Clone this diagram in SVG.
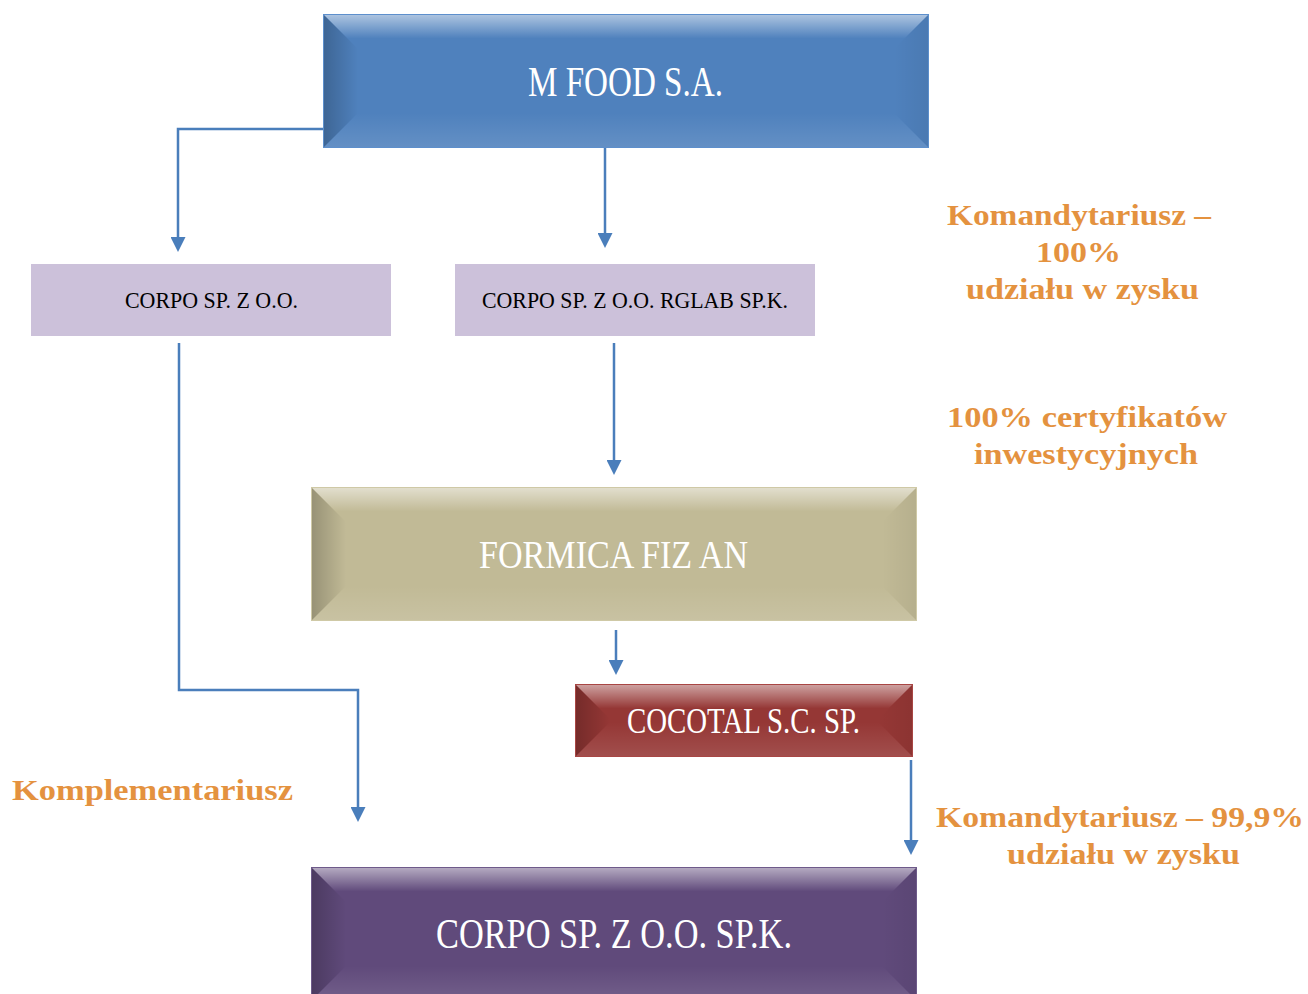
<svg xmlns="http://www.w3.org/2000/svg" width="1308" height="994" viewBox="0 0 1308 994">
<style>
.bg{fill:#ffffff}
.ntext{font-family:"Liberation Serif",serif;fill:#ffffff}
.stext{font-family:"Liberation Serif",serif;fill:#000000;font-size:23px}
.lbl{font-family:"Liberation Serif",serif;font-weight:bold;fill:#e4923f;font-size:29px}
.conn{fill:none;stroke:#4a7ebb;stroke-width:2.5}
.top{fill:url(#gTop)}
.left{fill:url(#gLeft)}
.right{fill:url(#gRight)}
.bot{fill:url(#gBot)}
</style>
<defs>
<linearGradient id="gTop" x1="0" y1="0" x2="0" y2="1">
<stop offset="0" stop-color="#ffffff" stop-opacity="0.55"/>
<stop offset="0.7" stop-color="#ffffff" stop-opacity="0"/>
</linearGradient>
<linearGradient id="gLeft" x1="0" y1="0" x2="1" y2="0">
<stop offset="0" stop-color="#000000" stop-opacity="0.22"/>
<stop offset="1" stop-color="#000000" stop-opacity="0"/>
</linearGradient>
<linearGradient id="gRight" x1="1" y1="0" x2="0" y2="0">
<stop offset="0" stop-color="#000000" stop-opacity="0.06"/>
<stop offset="1" stop-color="#000000" stop-opacity="0"/>
</linearGradient>
<linearGradient id="gBot" x1="0" y1="1" x2="0" y2="0">
<stop offset="0" stop-color="#ffffff" stop-opacity="0.12"/>
<stop offset="1" stop-color="#ffffff" stop-opacity="0"/>
</linearGradient>
<marker id="arr" viewBox="0 0 10 10" refX="2" refY="5" markerWidth="15" markerHeight="15" markerUnits="userSpaceOnUse" orient="auto">
<path d="M0,0 L10,5 L0,10 z" fill="#4a7ebb"/>
</marker>
</defs>
<rect class="bg" x="0" y="0" width="1308" height="994"/>

<g id="connectors">
<path class="conn" d="M323,129 H178 V240" marker-end="url(#arr)"/>
<path class="conn" d="M605,148 V236" marker-end="url(#arr)"/>
<path class="conn" d="M179,343 V690 H358 V810" marker-end="url(#arr)"/>
<path class="conn" d="M614,343 V463" marker-end="url(#arr)"/>
<path class="conn" d="M616,630 V663" marker-end="url(#arr)"/>
<path class="conn" d="M911,760 V843" marker-end="url(#arr)"/>
</g>

<g id="mfood">
<rect x="323" y="14" width="606" height="134" fill="#4f81bd"/>
<polygon class="top" points="323,14 929,14 894,49 358,49"/>
<polygon class="left" points="323,14 358,49 358,113 323,148"/>
<polygon class="right" points="929,14 894,49 894,113 929,148"/>
<polygon class="bot" points="323,148 929,148 894,113 358,113"/>
<rect x="323.5" y="14.5" width="605" height="133" fill="none" stroke="#5d8fcc" stroke-width="1"/>
<text class="ntext" x="528" y="96" font-size="42" textLength="195" lengthAdjust="spacingAndGlyphs">M FOOD S.A.</text>
</g>

<g id="corpo">
<rect x="31" y="264" width="360" height="72" fill="#ccc1da"/>
<text class="stext" x="125" y="308" textLength="173" lengthAdjust="spacingAndGlyphs">CORPO SP. Z O.O.</text>
</g>

<g id="rglab">
<rect x="455" y="264" width="360" height="72" fill="#ccc1da"/>
<text class="stext" x="482" y="308" textLength="306" lengthAdjust="spacingAndGlyphs">CORPO SP. Z O.O. RGLAB SP.K.</text>
</g>

<g id="formica">
<rect x="311" y="487" width="606" height="134" fill="#c1ba96"/>
<polygon class="top" points="311,487 917,487 882,522 346,522"/>
<polygon class="left" points="311,487 346,522 346,586 311,621"/>
<polygon class="right" points="917,487 882,522 882,586 917,621"/>
<polygon class="bot" points="311,621 917,621 882,586 346,586"/>
<rect x="311.5" y="487.5" width="605" height="133" fill="none" stroke="#cfc9a6" stroke-width="1"/>
<text class="ntext" x="479" y="568" font-size="41" textLength="269" lengthAdjust="spacingAndGlyphs">FORMICA FIZ AN</text>
</g>

<g id="cocotal">
<rect x="575" y="684" width="338" height="73" fill="#953735"/>
<polygon class="top" points="575,684 913,684 878,719 610,719"/>
<polygon class="left" points="575,684 610,719 610,722 575,757"/>
<polygon class="right" points="913,684 878,719 878,722 913,757"/>
<polygon class="bot" points="575,757 913,757 878,722 610,722"/>
<rect x="575.5" y="684.5" width="337" height="72" fill="none" stroke="#a84644" stroke-width="1"/>
<text class="ntext" x="627" y="733" font-size="36" textLength="233" lengthAdjust="spacingAndGlyphs">COCOTAL S.C. SP.</text>
</g>

<g id="corpo-spk">
<rect x="311" y="867" width="606" height="134" fill="#604a7b"/>
<polygon class="top" points="311,867 917,867 882,902 346,902"/>
<polygon class="left" points="311,867 346,902 346,966 311,1001"/>
<polygon class="right" points="917,867 882,902 882,966 917,1001"/>
<polygon class="bot" points="311,1001 917,1001 882,966 346,966"/>
<rect x="311.5" y="867.5" width="605" height="133" fill="none" stroke="#6e5a8a" stroke-width="1"/>
<text class="ntext" x="436" y="948" font-size="43" textLength="356" lengthAdjust="spacingAndGlyphs">CORPO SP. Z O.O. SP.K.</text>
</g>

<g id="labels">
<text class="lbl" x="947" y="225" textLength="264" lengthAdjust="spacingAndGlyphs">Komandytariusz –</text>
<text class="lbl" x="1036" y="262" textLength="85" lengthAdjust="spacingAndGlyphs">100%</text>
<text class="lbl" x="966" y="299" textLength="233" lengthAdjust="spacingAndGlyphs">udziału w zysku</text>
<text class="lbl" x="947" y="427" textLength="280" lengthAdjust="spacingAndGlyphs">100% certyfikatów</text>
<text class="lbl" x="974" y="464" textLength="224" lengthAdjust="spacingAndGlyphs">inwestycyjnych</text>
<text class="lbl" x="12" y="800" textLength="281" lengthAdjust="spacingAndGlyphs">Komplementariusz</text>
<text class="lbl" x="936" y="827" textLength="368" lengthAdjust="spacingAndGlyphs">Komandytariusz – 99,9%</text>
<text class="lbl" x="1007" y="864" textLength="233" lengthAdjust="spacingAndGlyphs">udziału w zysku</text>
</g>
</svg>
